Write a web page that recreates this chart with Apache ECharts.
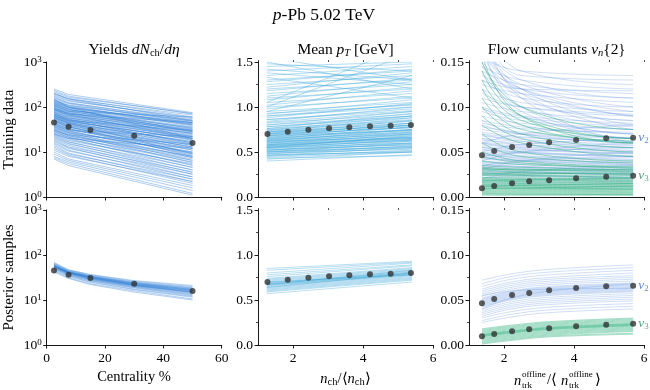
<!DOCTYPE html>
<html><head><meta charset="utf-8">
<script src="https://cdn.jsdelivr.net/npm/echarts@6/dist/echarts.min.js"></script>
<style>html,body{margin:0;padding:0;background:#fff}#c{width:650px;height:390px}</style>
</head><body><div id="c"></div>
<script>
const FONT = 'Liberation Serif';

// ---- experimental data points ----
const centrality = [2.5, 7.5, 15, 30, 50];
const yieldsExp = [45.5, 36.5, 30.7, 23, 15.9];
const nchX = [1.27, 1.85, 2.44, 3.03, 3.61, 4.2, 4.79, 5.37];
const meanPtExp = [0.70, 0.726, 0.748, 0.763, 0.774, 0.785, 0.793, 0.80];
const ntrkX = [1.37, 1.72, 2.23, 2.72, 3.29, 4.06, 4.92, 5.69];
const v2Exp = [0.0463, 0.0511, 0.0556, 0.0578, 0.0608, 0.0633, 0.0652, 0.0659];
const v3Exp = [0.0097, 0.0122, 0.0152, 0.0174, 0.0186, 0.0208, 0.0226, 0.0237];

// ---- tick values ----
const yieldTicks = [1, 10, 100, 1000];
const centTicks = [0, 20, 40, 60];
const ptTicks = [0, 0.5, 1.0, 1.5];
const flowTicks = [0, 0.05, 0.10, 0.15];
const multTicks = [2, 4, 6];

// ---- training data (model runs) ----
const yieldTrainX = [2.5, 7.5, 50];
const yieldTrain = [
[250,190,75],[235,175,70],[220,165,72],[205,155,60],[195,150,66],[185,140,55],[175,135,58],[168,125,48],
[160,122,52],[152,118,45],[145,110,50],[140,105,40],[135,100,44],[128,98,38],[122,92,42],[118,88,33],
[112,85,36],[108,82,30],[104,78,34],[100,75,28],[96,72,31],[92,70,25],[88,66,27],[85,64,22],[82,62,26],
[78,58,20],[75,56,23],[72,54,18],[70,52,21],[67,50,16],[64,48,19],[62,46,14],[60,45,17],[58,43,12.5],
[55,41,15],[53,40,11],[51,38,13],[49,36,9.5],[47,35,12],[45,33,8.5],[43,32,10],[41,30,7.5],[39,29,9],
[37,27,6.5],[35,26,8],[34,25,5.8],[32,23,7],[30,22,5],[29,21,6],[27,20,4.5],[26,19,5.2],[24,17,4],
[23,16.5,4.6],[22,15.5,3.5],[21,15,4],[20,14,3.2],[19,13,3.6],[18,12.5,2.8],[17,12,3.2],[16,11,2.5],
[15,10.5,2.8],[14,9.5,2.2],[13,9,2.5],[12,8.5,2],[11,8,2.2],[10,7,1.8],[9,6.5,1.6],[8,6,1.4],[7.5,5.5,1.2],
[7,5,1.1],[40,30,22],[25,20,12],[150,100,20],[90,70,45],[65,50,30],[110,80,60],[30,24,15],[58,44,9],
[140,108,48],[132,100,42],[126,95,45],[115,87,40],[106,80,35],[98,74,32],[94,71,29],[86,65,30],[80,60,24],
[76,57,26],[71,53,22],[66,49,19],[63,47,20],[59,44,16],[56,42,17],[52,39,14],[48,36,13],[44,33,11],
[42,31,12],[38,28,9.5],[36,27,10],[33,24,8],[31,23,7.5],[28,21,6.5],[25,18,5.5],[120,90,28],[90,68,20],
[70,52,15],[50,37,8],[200,150,50]
];
const ptTrainX = [1.25, 5.4];
const ptTrain = [
[0.40,0.47],[0.42,0.50],[0.43,0.46],[0.45,0.52],[0.46,0.55],[0.47,0.50],[0.48,0.57],[0.49,0.53],
[0.50,0.60],[0.51,0.56],[0.52,0.62],[0.53,0.58],[0.54,0.64],[0.55,0.60],[0.56,0.67],[0.57,0.63],
[0.58,0.70],[0.59,0.65],[0.60,0.72],[0.61,0.68],[0.62,0.75],[0.63,0.70],[0.64,0.78],[0.65,0.72],
[0.66,0.80],[0.67,0.75],[0.68,0.82],[0.69,0.77],[0.70,0.85],[0.71,0.80],[0.72,0.88],[0.73,0.82],
[0.74,0.90],[0.75,0.85],[0.76,0.93],[0.78,0.88],[0.80,0.95],[0.82,0.92],[0.84,1.00],[0.86,0.96],
[0.88,1.04],[0.90,1.00],[0.92,1.08],[0.95,1.05],[0.98,1.12],[1.00,1.10],[1.02,1.18],[1.05,1.15],
[1.08,1.22],[1.10,1.20],[1.12,1.28],[1.15,1.25],[1.18,1.32],[1.20,1.30],[1.22,1.38],[1.25,1.35],
[1.28,1.42],[1.30,1.40],[1.33,1.10],[1.35,1.45],[1.38,1.25],[1.40,1.48],[1.42,1.30],[1.45,1.50],
[1.48,1.40],[1.00,1.60],[1.05,1.70],[0.95,1.35],[1.50,1.20],[1.55,1.30],
[0.52,0.58],[0.56,0.62],[0.60,0.66],[0.64,0.71],[0.68,0.74],[0.72,0.79],[0.50,0.56],[0.58,0.66],
[0.44,0.50],[0.46,0.51],[0.48,0.54],[0.50,0.55],[0.52,0.59],[0.54,0.60],[0.55,0.63],[0.57,0.65],
[0.58,0.64],[0.60,0.69],[0.62,0.70],[0.63,0.73],[0.65,0.75],[0.66,0.74],[0.68,0.78],[0.70,0.80],
[0.72,0.82],[0.74,0.84],[0.76,0.86],[0.78,0.90],[0.80,0.90],[0.83,0.95],[0.86,0.98],[0.90,1.03],
[0.93,1.02],[0.55,0.68],[0.62,0.66],[0.70,0.77]
];
const flowTrainX = [1.37, 2.5, 5.69];
const v2Train = [
[0.17,0.13,0.11],[0.16,0.125,0.10],[0.155,0.14,0.135],[0.15,0.12,0.095],[0.16,0.11,0.085],[0.145,0.13,0.12],
[0.14,0.125,0.115],[0.18,0.12,0.08],[0.135,0.12,0.11],[0.13,0.11,0.10],[0.125,0.115,0.105],[0.17,0.10,0.07],
[0.12,0.105,0.095],[0.115,0.10,0.09],[0.11,0.10,0.092],[0.105,0.095,0.085],[0.15,0.095,0.065],[0.10,0.09,0.082],
[0.098,0.088,0.078],[0.095,0.085,0.075],[0.09,0.082,0.075],[0.085,0.078,0.07],[0.082,0.076,0.072],
[0.078,0.072,0.066],[0.075,0.07,0.065],[0.072,0.067,0.06],[0.07,0.066,0.062],[0.068,0.064,0.058],
[0.065,0.062,0.057],[0.063,0.06,0.055],[0.061,0.058,0.054],[0.06,0.056,0.05],[0.058,0.055,0.051],
[0.056,0.053,0.049],[0.055,0.052,0.048],[0.053,0.05,0.046],[0.052,0.049,0.045],[0.05,0.048,0.044],
[0.049,0.046,0.042],[0.047,0.045,0.041],[0.046,0.044,0.04],[0.045,0.042,0.039],[0.043,0.041,0.037],
[0.042,0.04,0.036],[0.04,0.038,0.035],[0.039,0.037,0.033],[0.038,0.036,0.032],[0.036,0.034,0.031],
[0.035,0.033,0.03],[0.034,0.032,0.029],[0.032,0.03,0.027],[0.031,0.029,0.026],[0.03,0.028,0.025],
[0.028,0.027,0.024],[0.027,0.025,0.022],[0.025,0.024,0.021],[0.024,0.022,0.02],[0.022,0.021,0.018],
[0.02,0.019,0.017],[0.018,0.017,0.015],[0.016,0.015,0.013],[0.014,0.013,0.011],[0.012,0.011,0.009],
[0.05,0.058,0.065],[0.04,0.05,0.06],[0.03,0.04,0.05],[0.06,0.07,0.08],[0.02,0.028,0.035],
[0.2,0.14,0.125],[0.19,0.135,0.13],[0.145,0.115,0.09],[0.13,0.12,0.118],
[0.16,0.12,0.09],[0.175,0.115,0.075],[0.14,0.1,0.08],[0.12,0.09,0.07],[0.1,0.08,0.065],[0.085,0.07,0.06],
[0.19,0.11,0.06],[0.065,0.058,0.052],[0.055,0.05,0.045],[0.048,0.043,0.038],[0.044,0.04,0.036],
[0.037,0.034,0.03],[0.033,0.031,0.028],[0.029,0.027,0.025],[0.026,0.024,0.022],[0.06,0.054,0.048],
[0.07,0.062,0.055],[0.08,0.07,0.062],[0.045,0.05,0.055],[0.035,0.04,0.045]
];
const v3Train = [
[0.14,0.09,0.065],[0.12,0.08,0.06],[0.15,0.10,0.075],[0.1,0.07,0.055],[0.09,0.065,0.05],[0.08,0.06,0.045],
[0.07,0.05,0.04],[0.06,0.045,0.038],[0.045,0.038,0.032],[0.05,0.04,0.034],[0.04,0.036,0.033],
[0.035,0.033,0.03],[0.033,0.031,0.029],[0.031,0.03,0.028],[0.03,0.028,0.026],[0.028,0.027,0.025],
[0.027,0.025,0.024],[0.025,0.024,0.022],[0.024,0.023,0.021],[0.022,0.021,0.02],[0.021,0.02,0.019],
[0.02,0.019,0.018],[0.019,0.018,0.017],[0.018,0.017,0.016],[0.017,0.016,0.015],[0.016,0.015,0.014],
[0.015,0.014,0.013],[0.014,0.013,0.012],[0.013,0.012,0.011],[0.012,0.011,0.01],[0.011,0.01,0.009],
[0.01,0.0095,0.0085],[0.009,0.0085,0.008],[0.008,0.0075,0.007],[0.007,0.0065,0.006],[0.006,0.0055,0.005],
[0.005,0.0045,0.004],[0.004,0.0035,0.003],[0.003,0.003,0.0025],[0.002,0.002,0.002],
[0.026,0.026,0.027],[0.018,0.019,0.021],[0.012,0.013,0.015],[0.032,0.03,0.031],[0.009,0.01,0.012],
[0.16,0.09,0.06],[0.13,0.085,0.065],[0.11,0.075,0.062]
];

// ---- posterior samples ----
const yieldPostX = [2.5, 7.5, 15, 30, 50];
const yieldPost = [
[68,47,37,27,21],[66,46,36,26,20],[64,45,35,25,19],[62,44,34,24.5,18.5],[61,43,33.5,24,18],
[60,42.5,33,23.5,17.5],[59,42,32.5,23,17],[58,41.5,32,22.5,16.5],[57,41,31.5,22,16],[56,40.5,31,21.8,15.8],
[55.5,40,30.5,21.5,15.5],[55,39.5,30,21,15],[54,39,29.5,20.8,14.8],[53.5,38.5,29,20.5,14.5],[53,38,28.5,20,14],
[52,37,28,19.5,13.5],[51,36,27,19,13],[50,35.5,26.5,18.5,12.5],[48,34,25.5,17.5,12],[46,33,24.5,17,11.5],
[44,31,23,16,10.5],[42,30,22,15,10],[57,42,33,23.5,17.2],[55,40,31.5,22.5,16.5],[58,41,31,21.5,15]
];
const ptPostX = [1.25, 5.4];
const ptPost = [
[0.57,0.70],[0.59,0.72],[0.60,0.73],[0.61,0.74],[0.62,0.75],[0.63,0.76],[0.64,0.77],[0.65,0.78],
[0.66,0.78],[0.665,0.79],[0.67,0.79],[0.675,0.80],[0.68,0.80],[0.685,0.81],[0.69,0.81],[0.70,0.82],
[0.71,0.83],[0.72,0.84],[0.73,0.85],[0.74,0.86],[0.76,0.88],[0.78,0.89],[0.80,0.91],[0.83,0.92],
[0.85,0.93],[0.67,0.83],[0.70,0.78],[0.64,0.80]
];
const flowPostX = [1.37, 2.2, 3.3, 5.69];
const v2Post = [
[0.072,0.079,0.084,0.089],[0.068,0.076,0.081,0.086],[0.065,0.073,0.078,0.083],[0.062,0.070,0.075,0.080],
[0.060,0.068,0.073,0.077],[0.058,0.066,0.071,0.075],[0.056,0.064,0.069,0.073],[0.054,0.062,0.067,0.071],
[0.052,0.060,0.065,0.069],[0.051,0.059,0.064,0.068],[0.050,0.058,0.063,0.067],[0.049,0.057,0.062,0.066],
[0.048,0.056,0.061,0.065],[0.047,0.055,0.060,0.064],[0.046,0.054,0.059,0.063],[0.045,0.053,0.058,0.062],
[0.044,0.052,0.057,0.061],[0.043,0.051,0.056,0.060],[0.042,0.050,0.055,0.059],[0.040,0.048,0.053,0.057],
[0.038,0.046,0.051,0.055],[0.036,0.044,0.049,0.053],[0.034,0.042,0.047,0.051],[0.032,0.040,0.045,0.049],
[0.030,0.037,0.042,0.046],[0.027,0.034,0.039,0.043],[0.025,0.031,0.036,0.040],[0.055,0.060,0.062,0.063],
[0.040,0.052,0.060,0.068]
];
const v3Post = [
[0.018,0.022,0.026,0.030],[0.017,0.021,0.025,0.029],[0.016,0.020,0.024,0.028],[0.015,0.019,0.023,0.027],
[0.014,0.018,0.022,0.026],[0.013,0.017,0.021,0.025],[0.012,0.016,0.020,0.024],[0.0115,0.0155,0.0195,0.0235],
[0.011,0.015,0.019,0.023],[0.0105,0.0145,0.0185,0.0225],[0.010,0.014,0.018,0.022],[0.0095,0.0135,0.0175,0.0215],
[0.009,0.013,0.017,0.021],[0.008,0.012,0.016,0.020],[0.007,0.011,0.015,0.019],[0.006,0.010,0.014,0.018],
[0.005,0.009,0.013,0.017],[0.004,0.008,0.012,0.016],[0.003,0.007,0.011,0.015],[0.002,0.006,0.010,0.013],
[0.001,0.005,0.009,0.012]
];

// ---- styling ----
const C_YIELD = '#2b7bd6', C_PT = '#3aa6d9', C_V2 = '#5a8fe0', C_V3 = '#2bb07c';
const C_V2TXT = '#3a6cc2', C_V3TXT = '#2a8a66', C_DOT = '#333333';

const GL = [46.7, 258, 469], GW = 175, GT = [62, 210], GH = 135;
const grids = [];
for (let r = 0; r < 2; r++) for (let c = 0; c < 3; c++)
  grids.push({left: GL[c], top: GT[r], width: GW, height: GH, outerBoundsMode: 'none', containLabel: false});

const axLine = {show: true, lineStyle: {color: '#000', width: 0.9}};
const tickSt = {show: true, length: 3.5, lineStyle: {color: '#000', width: 0.9}};
const lbl = {color: '#000', fontFamily: FONT, fontSize: 13.5, margin: 5};
const supRich = {s: {fontFamily: FONT, fontSize: 9, verticalAlign: 'top', lineHeight: 9, padding: [0,0,5,0]}, b: {fontFamily: FONT, fontSize: 13.5}};

const xAxes = [], yAxes = [];
for (let g = 0; g < 6; g++) {
  const c = g % 3, bottom = g >= 3;
  if (c === 0) {
    xAxes.push({type: 'value', gridIndex: g, min: 0, max: 60, interval: 20, axisLine: axLine, axisTick: tickSt,
      splitLine: {show: false}, axisLabel: Object.assign({show: bottom, customValues: centTicks}, lbl, {margin: 6})});
  } else {
    xAxes.push({type: 'value', gridIndex: g, min: 1, max: 6, axisLine: axLine,
      axisTick: Object.assign({customValues: multTicks}, tickSt), splitLine: {show: false},
      axisLabel: Object.assign({show: bottom, customValues: multTicks}, lbl, {margin: 6})});
  }
  if (c === 0) {
    yAxes.push({type: 'log', logBase: 10, gridIndex: g, min: 1, max: 1000, axisLine: axLine, axisTick: tickSt,
      splitLine: {show: false}, minorTick: {show: false},
      axisLabel: Object.assign({}, lbl, {customValues: yieldTicks, formatter: v => '{b|10}{s|' + Math.round(Math.log10(v)) + '}', rich: supRich}),
      name: bottom ? 'Posterior samples' : 'Training data', nameLocation: 'middle', nameRotate: 90, nameGap: 30,
      nameTextStyle: {fontFamily: FONT, fontSize: 15, color: '#000'}});
  } else if (c === 1) {
    yAxes.push({type: 'value', gridIndex: g, min: 0, max: 1.5, interval: 0.5, axisLine: axLine, axisTick: tickSt,
      splitLine: {show: false}, minorTick: {show: true, splitNumber: 2, length: 2, lineStyle: {color: '#000', width: 0.7}},
      axisLabel: Object.assign({}, lbl, {customValues: ptTicks, formatter: v => v.toFixed(1)})});
  } else {
    yAxes.push({type: 'value', gridIndex: g, min: 0, max: 0.15, interval: 0.05, axisLine: axLine, axisTick: tickSt,
      splitLine: {show: false}, minorTick: {show: true, splitNumber: 2, length: 2, lineStyle: {color: '#000', width: 0.7}},
      axisLabel: Object.assign({}, lbl, {customValues: flowTicks, formatter: v => v.toFixed(2)})});
  }
}
// minor x ticks for multiplicity axes
[1, 2, 4, 5].forEach(g => xAxes.push({type: 'value', gridIndex: g, min: 1, max: 6, interval: 1,
  axisLine: {show: false}, axisLabel: {show: false}, splitLine: {show: false},
  axisTick: {show: true, length: 2, lineStyle: {color: '#000', width: 0.7}}}));

const series = [];
function addLines(g, xs, rows, color, opacity, width, smooth) {
  rows.forEach(r => series.push({type: 'line', xAxisIndex: g, yAxisIndex: g, silent: true, animation: false,
    symbol: 'none', clip: true, z: 2, smooth: smooth || false, data: xs.map((x, i) => [x, r[i]]),
    lineStyle: {color: color, width: width, opacity: opacity}}));
}
function addDots(g, xs, ys, label) {
  const data = xs.map((x, i) => [x, ys[i]]);
  if (label) {
    data[data.length - 1] = {value: data[data.length - 1], label: {show: true, position: 'right', distance: 2,
      formatter: '{i|v}{s|' + label.n + '}',
      rich: {i: {fontFamily: FONT, fontStyle: 'italic', fontSize: 13.5, color: label.color, lineHeight: 14},
             s: {fontFamily: FONT, fontSize: 9, color: label.color, verticalAlign: 'bottom', lineHeight: 9, padding: [5,0,0,0]}}}};
  }
  series.push({type: 'scatter', xAxisIndex: g, yAxisIndex: g, silent: true, animation: false, z: 10,
    symbol: 'circle', symbolSize: 6, itemStyle: {color: C_DOT}, data: data});
}
addLines(0, yieldTrainX, yieldTrain, C_YIELD, 0.38, 1.0);
addLines(1, ptTrainX, ptTrain, C_PT, 0.38, 1.0);
addLines(2, flowTrainX, v2Train, C_V2, 0.32, 0.9, 0.5);
addLines(2, flowTrainX, v3Train, C_V3, 0.48, 1.0, 0.5);
addLines(3, yieldPostX, yieldPost, C_YIELD, 0.4, 0.9);
addLines(4, ptPostX, ptPost, C_PT, 0.4, 0.9);
addLines(5, flowPostX, v2Post, C_V2, 0.32, 0.9, 0.4);
addLines(5, flowPostX, v3Post, C_V3, 0.45, 0.9, 0.4);
addDots(0, centrality, yieldsExp);
addDots(3, centrality, yieldsExp);
addDots(1, nchX, meanPtExp);
addDots(4, nchX, meanPtExp);
addDots(2, ntrkX, v2Exp, {n: '2', color: C_V2TXT});
addDots(2, ntrkX, v3Exp, {n: '3', color: C_V3TXT});
addDots(5, ntrkX, v2Exp, {n: '2', color: C_V2TXT});
addDots(5, ntrkX, v3Exp, {n: '3', color: C_V3TXT});

// ---- texts ----
const R = {
  n: {fontFamily: FONT, fontSize: 15.5, fill: '#000', lineHeight: 18},
  i: {fontFamily: FONT, fontSize: 15.5, fontStyle: 'italic', fill: '#000', lineHeight: 18},
  sub: {fontFamily: FONT, fontSize: 10.5, fill: '#000', verticalAlign: 'bottom', lineHeight: 10, padding: [6,0,0,0]},
  isub: {fontFamily: FONT, fontSize: 10.5, fontStyle: 'italic', fill: '#000', verticalAlign: 'bottom', lineHeight: 10, padding: [6,0,0,0]},
  t: {fontFamily: FONT, fontSize: 17.5, fill: '#000', lineHeight: 20},
  ti: {fontFamily: FONT, fontSize: 17.5, fontStyle: 'italic', fill: '#000', lineHeight: 20},
  a: {fontFamily: FONT, fontSize: 14.5, fill: '#000', lineHeight: 17},
  ai: {fontFamily: FONT, fontSize: 14.5, fontStyle: 'italic', fill: '#000', lineHeight: 17}
};
function txt(x, y, text) {
  return {type: 'text', x: x, y: y, silent: true,
    style: {text: text, rich: R, align: 'center', verticalAlign: 'middle', fontFamily: FONT, fontSize: 14, fill: '#000'}};
}
function plain(x, y, text, size, italic, align) {
  return {type: 'text', x: x, y: y, silent: true, style: {text: text, fontFamily: FONT, fontSize: size,
    fontStyle: italic ? 'italic' : 'normal', fill: '#000', align: align || 'left', verticalAlign: 'middle'}};
}
const graphics = [
  txt(324, 15, '{ti|p}{t|-Pb 5.02 TeV}'),
  txt(134, 50, '{n|Yields }{i|dN}{sub|ch}{n|/}{i|dη}'),
  txt(345.5, 50, '{n|Mean }{i|p}{isub|T}{n| [GeV]}'),
  txt(556.5, 50, '{n|Flow cumulants }{i|v}{isub|n}{n|\{2\}}'),
  txt(134, 377, '{a|Centrality %}'),
  txt(345.5, 379, '{ai|n}{sub|ch}{a|/⟨}{ai|n}{sub|ch}{a|⟩}'),
  // n_trk^offline / <n_trk^offline>
  plain(514, 381, 'n', 14.5, true),
  plain(522, 375, 'offline', 9),
  plain(522, 386, 'trk', 9),
  plain(547, 380, '/⟨', 14.5),
  plain(561, 381, 'n', 14.5, true),
  plain(569, 375, 'offline', 9),
  plain(569, 386, 'trk', 9),
  plain(595, 380, '⟩', 14.5)
];

const chart = echarts.init(document.getElementById('c'), null, {renderer: 'canvas'});
chart.setOption({
  animation: false,
  backgroundColor: '#fff',
  grid: grids,
  xAxis: xAxes,
  yAxis: yAxes,
  series: series,
  graphic: graphics
});
</script></body></html>
